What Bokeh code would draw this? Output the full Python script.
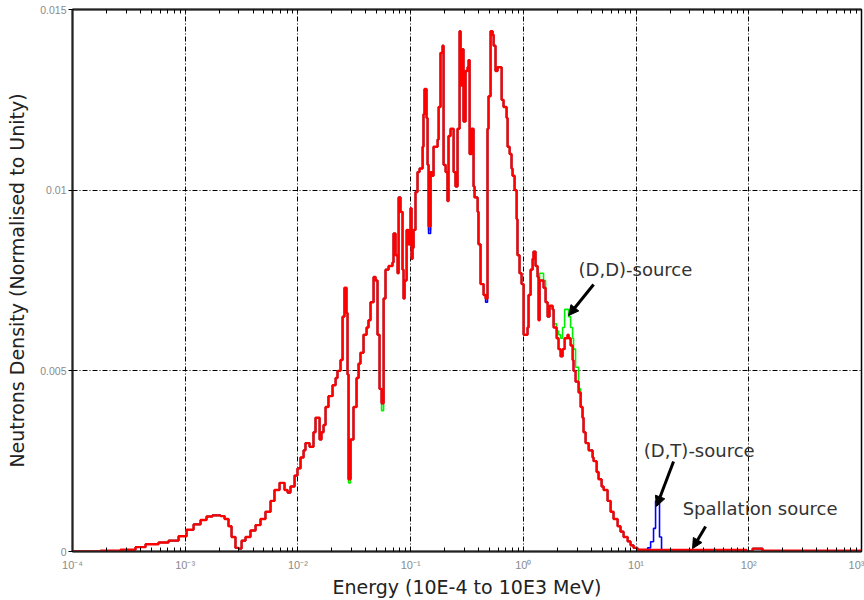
from bokeh.plotting import figure
from bokeh.models import (FixedTicker, LogAxis, CustomJSTickFormatter, Label,
                          Arrow, NormalHead, Range1d)
from bokeh.embed import file_html
from bokeh.resources import INLINE

# ---------------- data ----------------
# bin left edges, log10(Energy / MeV)
log10_energy = [
    -4.000, -3.752, -3.574, -3.441, -3.352, -3.237, -3.148, -3.059, -2.988, -2.926,
    -2.864, -2.811, -2.758, -2.687, -2.651, -2.616, -2.589, -2.554, -2.527, -2.500,
    -2.465, -2.421, -2.376, -2.332, -2.288, -2.243, -2.208, -2.163, -2.119, -2.092,
    -2.066, -2.030, -2.004, -1.977, -1.950, -1.933, -1.897, -1.862, -1.844, -1.808,
    -1.791, -1.773, -1.755, -1.729, -1.693, -1.666, -1.649, -1.622, -1.604, -1.587,
    -1.569, -1.560, -1.551, -1.533, -1.507, -1.480, -1.462, -1.445, -1.418, -1.391,
    -1.374, -1.356, -1.329, -1.311, -1.294, -1.276, -1.258, -1.240, -1.223, -1.196,
    -1.161, -1.152, -1.134, -1.116, -1.107, -1.090, -1.072, -1.063, -1.054, -1.036,
    -1.019, -1.001, -0.992, -0.983, -0.974, -0.957, -0.939, -0.921, -0.894, -0.886,
    -0.877, -0.859, -0.850, -0.841, -0.823, -0.806, -0.797, -0.761, -0.752, -0.735,
    -0.717, -0.708, -0.690, -0.673, -0.664, -0.646, -0.619, -0.602, -0.584, -0.566,
    -0.557, -0.540, -0.531, -0.513, -0.495, -0.486, -0.477, -0.460, -0.442, -0.433,
    -0.406, -0.398, -0.380, -0.353, -0.335, -0.318, -0.309, -0.291, -0.273, -0.264,
    -0.247, -0.229, -0.193, -0.176, -0.149, -0.140, -0.122, -0.105, -0.096, -0.078,
    -0.060, -0.052, -0.034, -0.016, 0.002, 0.037, 0.046, 0.064, 0.082, 0.090,
    0.108, 0.126, 0.135, 0.144, 0.179, 0.197, 0.215, 0.232, 0.259, 0.268,
    0.295, 0.312, 0.330, 0.348, 0.366, 0.392, 0.401, 0.419, 0.437, 0.445,
    0.463, 0.490, 0.508, 0.525, 0.534, 0.552, 0.579, 0.614, 0.623, 0.650,
    0.667, 0.694, 0.712, 0.747, 0.774, 0.800, 0.836, 0.862, 0.889, 0.925,
    0.951, 0.978, 1.013, 1.102, 1.129, 1.155, 1.173, 1.191, 1.208, 1.226,
    1.980, 2.034, 2.122, 3.000,
]

# Spallation source (red)
red_density = [
    0.0, 0.00002, 0.00005, 0.00012, 0.0002, 0.00025, 0.0003, 0.00042, 0.0006, 0.00075,
    0.00087, 0.00097, 0.001, 0.00098, 0.0009, 0.0007, 0.0004, 0.0001, 0.00008, 0.0003,
    0.0004, 0.00058, 0.00073, 0.0009, 0.0011, 0.0014, 0.0017, 0.0019, 0.0017, 0.00163,
    0.0018, 0.0021, 0.0023, 0.0026, 0.0028, 0.003, 0.0029, 0.0033, 0.0037, 0.0031,
    0.0033, 0.0035, 0.004, 0.0043, 0.0046, 0.0048, 0.005, 0.0053, 0.0065, 0.0073,
    0.0066, 0.0049, 0.002, 0.0031, 0.004, 0.0048, 0.0052, 0.0055, 0.006, 0.0062,
    0.0064, 0.0069, 0.0076, 0.0075, 0.006, 0.0045, 0.0041, 0.007, 0.0078, 0.0079,
    0.008, 0.0088, 0.0082, 0.0077, 0.0098, 0.0094, 0.0078, 0.007, 0.0075, 0.0089,
    0.0085, 0.0095, 0.0081, 0.0084, 0.0089, 0.00995, 0.0105, 0.0106, 0.0112, 0.0121,
    0.0128, 0.012, 0.0107, 0.009, 0.0105, 0.0104, 0.0112, 0.0114, 0.0123, 0.0138,
    0.014, 0.0107, 0.0105, 0.0097, 0.0115, 0.0117, 0.0105, 0.0101, 0.0117, 0.0144,
    0.0129, 0.0139, 0.0119, 0.0133, 0.0134, 0.0136, 0.011, 0.0117, 0.0101, 0.0098,
    0.0094, 0.0085, 0.0074, 0.0071, 0.007, 0.0117, 0.0126, 0.0144, 0.0143, 0.014,
    0.0133, 0.0134, 0.0125, 0.0123, 0.012, 0.0112, 0.011, 0.0106, 0.0104, 0.01,
    0.0092, 0.0082, 0.0077, 0.0074, 0.006, 0.0062, 0.0071, 0.0078, 0.0081, 0.0083,
    0.0079, 0.0076, 0.0064, 0.0075, 0.0073, 0.0069, 0.0065, 0.0068, 0.0067, 0.0062,
    0.0059, 0.0056, 0.0054, 0.0056, 0.0059, 0.006, 0.0059, 0.0057, 0.0053, 0.005,
    0.0047, 0.0044, 0.004, 0.0037, 0.0033, 0.003, 0.0028, 0.0026, 0.0025, 0.0022,
    0.002, 0.0018, 0.0017, 0.0014, 0.0011, 0.0009, 0.0007, 0.00055, 0.0004, 0.00028,
    0.00017, 0.0001, 0.00005, 0.00004, 0.00004, 0.00004, 0.00004, 0.00004, 0.00004, 0.00004,
    0.0, 0.00008, 0.00002, 0.00002,
]

# (D,D)-source (green)
green_density = [
    0.0, 0.00002, 0.00005, 0.00012, 0.0002, 0.00025, 0.0003, 0.00042, 0.0006, 0.00075,
    0.00087, 0.00097, 0.001, 0.00098, 0.0009, 0.0007, 0.0004, 0.0001, 0.00008, 0.0003,
    0.0004, 0.00058, 0.00073, 0.0009, 0.0011, 0.0014, 0.0017, 0.0019, 0.0017, 0.00163,
    0.0018, 0.0021, 0.0023, 0.0026, 0.0028, 0.003, 0.0029, 0.0033, 0.0037, 0.0031,
    0.0033, 0.0035, 0.004, 0.0043, 0.0046, 0.0048, 0.005, 0.0053, 0.0065, 0.0073,
    0.0066, 0.0049, 0.0019, 0.0031, 0.004, 0.0048, 0.0052, 0.0055, 0.006, 0.0062,
    0.0064, 0.0069, 0.0076, 0.0075, 0.006, 0.0045, 0.0039, 0.007, 0.0078, 0.0079,
    0.008, 0.0088, 0.0082, 0.0077, 0.0098, 0.0094, 0.0078, 0.007, 0.0075, 0.0089,
    0.0085, 0.0095, 0.0081, 0.0084, 0.0089, 0.00995, 0.0105, 0.0106, 0.0112, 0.0121,
    0.0128, 0.012, 0.0107, 0.0089, 0.0105, 0.0104, 0.0112, 0.0114, 0.0123, 0.0138,
    0.014, 0.0107, 0.0105, 0.0097, 0.0115, 0.0117, 0.0105, 0.0101, 0.0117, 0.0144,
    0.0129, 0.0139, 0.0119, 0.0133, 0.0134, 0.0136, 0.011, 0.0117, 0.0101, 0.0098,
    0.0094, 0.0085, 0.0074, 0.0071, 0.007, 0.0117, 0.0126, 0.0144, 0.0143, 0.014,
    0.0133, 0.0134, 0.0125, 0.0123, 0.012, 0.0112, 0.011, 0.0106, 0.0104, 0.01,
    0.0092, 0.0082, 0.0077, 0.0074, 0.006, 0.0062, 0.0071, 0.0078, 0.0081, 0.0083,
    0.0079, 0.0076, 0.0064, 0.0077, 0.0075, 0.0069, 0.0065, 0.0068, 0.0067, 0.0063,
    0.0061, 0.006, 0.0059, 0.0062, 0.0067, 0.0067, 0.0065, 0.0062, 0.0059, 0.0056,
    0.0051, 0.0045, 0.004, 0.0037, 0.0033, 0.003, 0.0028, 0.0026, 0.0025, 0.0022,
    0.002, 0.0018, 0.0017, 0.0014, 0.0011, 0.0009, 0.0007, 0.00055, 0.0004, 0.00028,
    0.00017, 0.0001, 0.00005, 0.00004, 0.00004, 0.00004, 0.00004, 0.00004, 0.00004, 0.00004,
    0.0, 0.00008, 0.00002, 0.00002,
]

# (D,T)-source (blue)
blue_density = [
    0.0, 0.00002, 0.00005, 0.00012, 0.0002, 0.00025, 0.0003, 0.00042, 0.0006, 0.00075,
    0.00087, 0.00097, 0.001, 0.00098, 0.0009, 0.0007, 0.0004, 0.0001, 0.00008, 0.0003,
    0.0004, 0.00058, 0.00073, 0.0009, 0.0011, 0.0014, 0.0017, 0.0019, 0.0017, 0.00163,
    0.0018, 0.0021, 0.0023, 0.0026, 0.0028, 0.003, 0.0029, 0.0033, 0.0037, 0.0031,
    0.0033, 0.0035, 0.004, 0.0043, 0.0046, 0.0048, 0.005, 0.0053, 0.0065, 0.0073,
    0.0066, 0.0049, 0.002, 0.0031, 0.004, 0.0048, 0.0052, 0.0055, 0.006, 0.0062,
    0.0064, 0.0069, 0.0076, 0.0075, 0.006, 0.0045, 0.0041, 0.007, 0.0078, 0.0079,
    0.008, 0.0088, 0.0082, 0.0077, 0.0098, 0.0094, 0.0078, 0.007, 0.0075, 0.0089,
    0.0085, 0.0095, 0.0081, 0.0084, 0.0089, 0.00995, 0.0105, 0.0106, 0.0112, 0.0121,
    0.0128, 0.012, 0.0107, 0.0088, 0.0105, 0.0104, 0.0112, 0.0114, 0.0123, 0.0138,
    0.014, 0.0107, 0.0105, 0.0097, 0.0115, 0.0117, 0.0105, 0.0101, 0.0117, 0.0144,
    0.0129, 0.0139, 0.0119, 0.0133, 0.0134, 0.0136, 0.011, 0.0117, 0.0101, 0.0098,
    0.0094, 0.0085, 0.0074, 0.0071, 0.0069, 0.0117, 0.0126, 0.0144, 0.0143, 0.014,
    0.0133, 0.0134, 0.0125, 0.0123, 0.012, 0.0112, 0.011, 0.0106, 0.0104, 0.01,
    0.0092, 0.0082, 0.0077, 0.0074, 0.006, 0.0062, 0.0071, 0.0078, 0.0081, 0.0083,
    0.0079, 0.0076, 0.0064, 0.0075, 0.0073, 0.0069, 0.0065, 0.0068, 0.0067, 0.0062,
    0.0059, 0.0056, 0.0054, 0.0056, 0.0059, 0.006, 0.0059, 0.0057, 0.0053, 0.005,
    0.0047, 0.0044, 0.004, 0.0037, 0.0033, 0.003, 0.0028, 0.0026, 0.0025, 0.0022,
    0.002, 0.0018, 0.0017, 0.0014, 0.0011, 0.0009, 0.0007, 0.00055, 0.0004, 0.00028,
    0.00017, 0.0001, 0.00005, 0.0001, 0.00027, 0.00064, 0.0014, 0.00135, 0.0004, 0.00004,
    0.0, 0.00008, 0.00002, 0.00002,
]

x_major_ticks = [1e-4, 1e-3, 1e-2, 1e-1, 1e0, 1e1, 1e2, 1e3]
y_ticks = [0, 0.005, 0.01, 0.015]

# annotations: (text, label x [MeV], label y, arrow start x, start y, end x, end y)
annotations = [
    ("(D,D)-source", 3.09, 0.0078, 4.2, 0.00739, 2.52, 0.00653),
    ("(D,T)-source", 11.7, 0.0028, 21.5, 0.00249, 15.2, 0.00125),
    ("Spallation source", 25.9, 0.00119, 41.4, 0.00069, 31.7, 0.00008),
]

energy = [10 ** v for v in log10_energy]

# ---------------- figure ----------------
p = figure(width=864, height=600, x_axis_type="log",
           x_range=Range1d(1e-4, 1e3), y_range=Range1d(0, 0.015),
           output_backend="svg", toolbar_location=None,
           min_border_left=72, min_border_right=3, min_border_top=9,
           min_border_bottom=47)
p.background_fill_color = "white"
p.border_fill_color = "white"
p.outline_line_color = "black"
p.outline_line_width = 1.5

minor = [m * t for t in x_major_ticks[:-1] for m in range(2, 10)]
xticker = FixedTicker(ticks=x_major_ticks, minor_ticks=minor)

sup_code = """
const e = Math.round(Math.log10(tick));
const sup = {'-':'\u207b','0':'\u2070','1':'\u00b9','2':'\u00b2','3':'\u00b3','4':'\u2074'};
return '10' + String(e).split('').map(c => sup[c]).join('');
"""

xa = p.below[0]
xa.ticker = xticker
xa.formatter = CustomJSTickFormatter(code=sup_code)
xa.axis_label = "Energy (10E-4 to 10E3 MeV)"
xa.axis_label_text_font = "DejaVu Sans"
xa.axis_label_text_font_size = "19px"
xa.axis_label_text_font_style = "normal"
xa.axis_label_text_color = "#222222"
xa.axis_label_standoff = 2
xa.major_label_text_font = "Liberation Sans"
xa.major_label_text_font_size = "11px"
xa.major_label_text_color = "#8a8a8a"
xa.major_label_standoff = 7
xa.major_tick_in = 4
xa.major_tick_out = 0
xa.minor_tick_in = 4
xa.minor_tick_out = 0
xa.major_tick_line_color = "black"
xa.minor_tick_line_color = "black"
xa.axis_line_color = "#222222"
xa.axis_line_width = 2

top = LogAxis(ticker=xticker, formatter=CustomJSTickFormatter(code="return '';"),
              major_label_text_font_size="0px", major_label_standoff=0,
              major_tick_in=4, major_tick_out=0, minor_tick_in=4, minor_tick_out=0,
              major_tick_line_color="black", minor_tick_line_color="black",
              axis_line_color="#222222", axis_line_width=2)
p.add_layout(top, "above")

ya = p.left[0]
ya.ticker = FixedTicker(ticks=y_ticks)
ya.formatter = CustomJSTickFormatter(
    code="return tick === 0 ? '0' : String(+tick.toFixed(3));")
ya.axis_label = "Neutrons Density (Normalised to Unity)"
ya.axis_label_text_font = "DejaVu Sans"
ya.axis_label_text_font_size = "19px"
ya.axis_label_text_font_style = "normal"
ya.axis_label_text_color = "#222222"
ya.axis_label_standoff = 9
ya.major_label_text_font = "Liberation Sans"
ya.major_label_text_font_size = "10.5px"
ya.major_label_text_color = "#8a8a8a"
ya.major_label_standoff = 2
ya.major_tick_out = 4
ya.major_tick_in = 0
ya.minor_tick_line_color = None
ya.major_tick_line_color = "black"
ya.axis_line_color = "#222222"
ya.axis_line_width = 2

p.xgrid.ticker = FixedTicker(ticks=x_major_ticks)
p.ygrid.ticker = FixedTicker(ticks=[0.005, 0.01])
for g in (p.xgrid[0], p.ygrid[0]):
    g.grid_line_color = "black"
    g.grid_line_dash = "5 2 1 2"
    g.grid_line_width = 1
    g.grid_line_alpha = 1.0

# ---------------- series ----------------
p.step(energy, green_density, mode="after", line_color="#00ee00", line_width=1.6)
p.step(energy, blue_density, mode="after", line_color="#0000ff", line_width=1.6)
p.step(energy, red_density, mode="after", line_color="#ff0000", line_width=2.4)

# ---------------- annotations ----------------
for text, lx, ly, xs, ys, xe, ye in annotations:
    p.add_layout(Label(x=lx, y=ly, text=text, text_font="DejaVu Sans",
                       text_font_size="18px", text_color="#333333",
                       text_baseline="middle", text_align="left"))
    p.add_layout(Arrow(end=NormalHead(size=10, fill_color="black", line_color="black"),
                       x_start=xs, y_start=ys, x_end=xe, y_end=ye,
                       line_width=3, line_color="black"))

open("out.html", "w").write(file_html(p, INLINE))
